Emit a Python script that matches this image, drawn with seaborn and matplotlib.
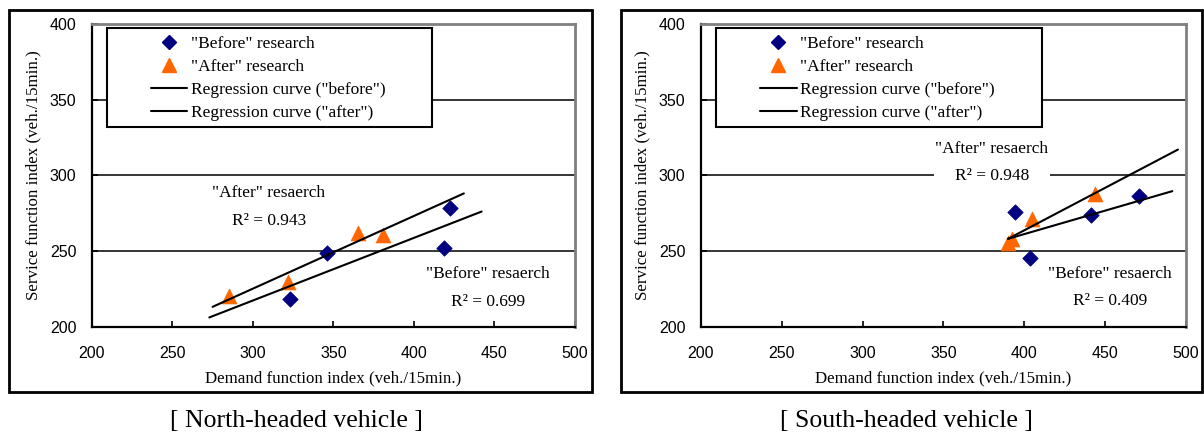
import matplotlib
matplotlib.use('Agg')
import matplotlib.pyplot as plt
from matplotlib.lines import Line2D
from matplotlib.patches import Rectangle
import seaborn as sns
import pandas as pd

# North-headed vehicle
north_before_x = [323, 346, 418.5, 422.5]
north_before_y = [218, 248.5, 252, 278.5]
north_after_x = [285.5, 322, 365, 380.5]
north_after_y = [220, 229.5, 262, 260.5]
north_reg_before_x = [273, 442]
north_reg_before_y = [206, 276]
north_reg_after_x = [275, 431]
north_reg_after_y = [213, 288]
north_r2 = {'before': 0.699, 'after': 0.943}

# South-headed vehicle
south_before_x = [394.5, 403.5, 441.5, 471]
south_before_y = [275.5, 245.5, 273.5, 286]
south_after_x = [390, 392.5, 405, 443.5]
south_after_y = [255.5, 258, 271, 287.5]
south_reg_before_x = [390, 491.5]
south_reg_before_y = [258, 289.5]
south_reg_after_x = [390, 495]
south_reg_after_y = [258, 317]
south_r2 = {'before': 0.409, 'after': 0.948}

x_ticks = [200, 250, 300, 350, 400, 450, 500]
y_ticks = [200, 250, 300, 350, 400]
captions = ['[ North-headed vehicle ]', '[ South-headed vehicle ]']

NAVY = '#000080'
ORANGE = '#FF6600'
SERIF = ['Liberation Serif', 'DejaVu Serif']
SANS = ['Liberation Sans', 'DejaVu Sans']

sns.set_style('white')
plt.rcParams['font.family'] = SERIF
plt.rcParams['text.color'] = 'black'
plt.rcParams['axes.labelcolor'] = 'black'


def draw_panel(ax, bx, by, axx, ay, rbx, rby, rax, ray, r2, after_pos, before_pos):
    before = pd.DataFrame({'x': bx, 'y': by})
    after = pd.DataFrame({'x': axx, 'y': ay})
    sns.scatterplot(data=before, x='x', y='y', marker='D', s=62, color=NAVY,
                    edgecolor=NAVY, linewidth=0.5, ax=ax, zorder=3)
    sns.scatterplot(data=after, x='x', y='y', marker='^', s=115, color=ORANGE,
                    edgecolor=ORANGE, linewidth=0.5, ax=ax, zorder=3)
    sns.lineplot(x=rbx, y=rby, color='black', lw=1.5, ax=ax, zorder=4)
    sns.lineplot(x=rax, y=ray, color='black', lw=1.5, ax=ax, zorder=4)

    ax.set_xlim(200, 500)
    ax.set_ylim(200, 400)
    ax.set_xticks(x_ticks)
    ax.set_yticks(y_ticks)
    for lab in ax.get_xticklabels() + ax.get_yticklabels():
        lab.set_family(SANS)
    ax.tick_params(direction='in', length=4, width=1.2, labelsize=11.5,
                   colors='black', left=True, bottom=True)
    ax.tick_params(axis='x', pad=14)
    ax.tick_params(axis='y', pad=11)
    ax.grid(axis='y', color='black', lw=1.1, zorder=0)
    ax.grid(axis='x', visible=False)
    ax.set_axisbelow(True)
    for side in ['left', 'bottom']:
        ax.spines[side].set_color('black')
        ax.spines[side].set_linewidth(1.6)
    for side in ['top', 'right']:
        ax.spines[side].set_color('#808080')
        ax.spines[side].set_linewidth(2)

    ax.set_xlabel('Demand function index (veh./15min.)', fontsize=12.2, labelpad=7)
    ax.set_ylabel('Service function index (veh./15min.)', fontsize=12.2, labelpad=6)

    ax.text(after_pos[0], after_pos[1],
            '"After" resaerch\nR\u00b2 = %.3f' % r2['after'],
            ha='center', va='center', multialignment='center', fontsize=12.5,
            linespacing=1.95, zorder=5,
            bbox=dict(facecolor='white', edgecolor='none', pad=1))
    ax.text(before_pos[0], before_pos[1],
            '"Before" resaerch\nR\u00b2 = %.3f' % r2['before'],
            ha='center', va='center', multialignment='center', fontsize=12.5,
            linespacing=1.95, zorder=5,
            bbox=dict(facecolor='white', edgecolor='none', pad=1))

    ax.add_patch(Rectangle((0.032, 0.66), 0.672, 0.326, transform=ax.transAxes,
                           facecolor='white', edgecolor='black', lw=1.5, zorder=6))
    handles = [
        Line2D([], [], ls='none', marker='D', ms=7, color=NAVY),
        Line2D([], [], ls='none', marker='^', ms=9.5, color=ORANGE),
        Line2D([], [], color='black', lw=1.5),
        Line2D([], [], color='black', lw=1.5),
    ]
    labels = ['"Before" research', '"After" research',
              'Regression curve ("before")', 'Regression curve ("after")']
    leg = ax.legend(handles, labels, loc='upper left', bbox_to_anchor=(0.122, 0.96),
                    frameon=False, fontsize=12.5, borderpad=0, handlelength=2.1,
                    handletextpad=0.2, labelspacing=0.39, borderaxespad=0)
    leg.set_zorder(7)


fig = plt.figure(figsize=(12.04, 4.32), dpi=100)
ax1 = fig.add_axes([0.0762, 0.2442, 0.4014, 0.7002])
ax2 = fig.add_axes([0.5821, 0.2442, 0.4030, 0.7002])

draw_panel(ax1, north_before_x, north_before_y, north_after_x, north_after_y,
           north_reg_before_x, north_reg_before_y, north_reg_after_x, north_reg_after_y,
           north_r2, (310, 279), (446, 225.5))
draw_panel(ax2, south_before_x, south_before_y, south_after_x, south_after_y,
           south_reg_before_x, south_reg_before_y, south_reg_after_x, south_reg_after_y,
           south_r2, (380, 308.4), (453, 225.8))

for x0, w in [(0.0075, 0.4842), (0.5158, 0.4823)]:
    fig.patches.append(Rectangle((x0, 0.0926), w, 0.8843, transform=fig.transFigure,
                                 facecolor='none', edgecolor='black', lw=2))

fig.text(0.2458, 0.026, captions[0], ha='center', va='center', fontsize=18.5)
fig.text(0.753, 0.026, captions[1], ha='center', va='center', fontsize=18.5)

fig.savefig('out.png', dpi=100)
